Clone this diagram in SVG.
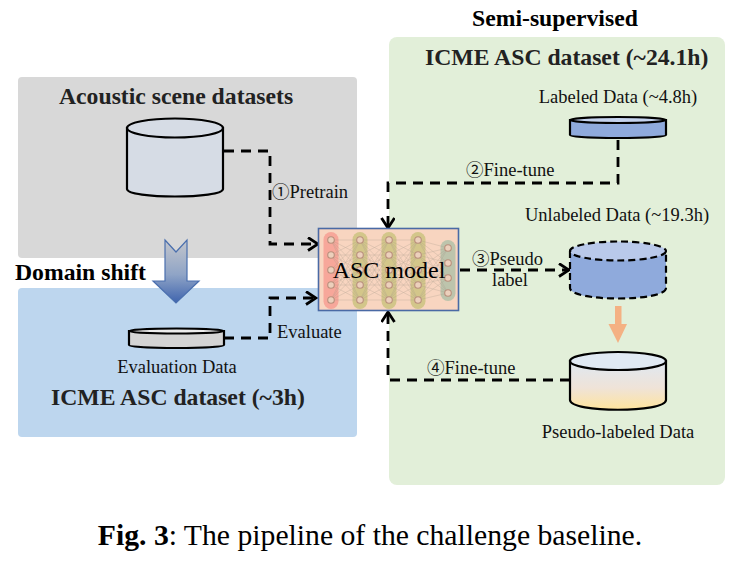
<svg xmlns="http://www.w3.org/2000/svg" width="738" height="563" viewBox="0 0 738 563">
<style>
text{font-family:"Liberation Serif",serif;fill:#111}
.t{font-size:18.500px}
.l{font-size:18.500px}
.k{font-family:"Noto Sans CJK SC","DejaVu Sans",sans-serif;font-size:17.500px}
.h{font-size:23.700px;font-weight:bold;fill:#222}
.c{stroke:#000;stroke-width:2.8;fill:none;stroke-dasharray:10 7}
.n{stroke:#a59a8a;stroke-width:.45;opacity:.6}
.o{fill:#ecd0bc;stroke:#b98f7c;stroke-width:1.1}
</style>
<defs>
<marker id="a" markerWidth="13" markerHeight="16" refX="11" refY="7" orient="auto" markerUnits="userSpaceOnUse"><path d="M1 0.5L11 7L1 13.5" fill="none" stroke="#000" stroke-width="2.8"/></marker>
<linearGradient id="g1" x1="0" y1="0" x2="0" y2="1"><stop offset="0" stop-color="#c3c6cc"/><stop offset=".55" stop-color="#8fa4c6"/><stop offset="1" stop-color="#3f64ae"/></linearGradient>
<linearGradient id="g2" x1="0" y1="0" x2="0" y2="1"><stop offset="0" stop-color="#dfe8f2"/><stop offset=".55" stop-color="#efe3d8"/><stop offset="1" stop-color="#ffe49d"/></linearGradient>
</defs>
<rect width="738" height="563" fill="#fff"/>
<g id="panel-acoustic"><rect x="18" y="77" width="339" height="181" rx="4" fill="#d8d8d8"/><text class="h" x="59" y="104">Acoustic scene datasets</text></g>
<g id="panel-icme-eval"><rect x="18" y="288" width="339" height="149" rx="4" fill="#bdd6ee"/><text class="h" x="51" y="405">ICME ASC dataset (~3h)</text></g>
<g id="panel-semi"><rect x="389" y="37" width="336" height="448" rx="8" fill="#e2efd9"/><text x="472" y="26" font-size="23.700" font-weight="bold" style="fill:#000">Semi-supervised</text><text class="h" x="425" y="65">ICME ASC dataset (~24.1h)</text></g>
<text x="15" y="280" font-size="23.700" font-weight="bold" style="fill:#000">Domain shift</text>
<g id="shift-arrow"><path d="M165 240L176 252L187 240V281H199L176 303L153 281H165Z" fill="url(#g1)" stroke="#4a6fae" stroke-width="1.2"/></g>
<g id="connectors">
<path class="c" d="M224 151H270V244H318" marker-end="url(#a)"/>
<path class="c" d="M224 338H270V298H316" marker-end="url(#a)"/>
<path class="c" d="M618 140V183H388V228" marker-end="url(#a)"/>
<path class="c" d="M460 270H569" marker-end="url(#a)"/>
<path class="c" d="M570 380H388V312" marker-end="url(#a)"/>
</g>
<g id="db-acoustic"><path d="M127 128V189C127 199 223 199 223 189V128Z" fill="#d6dce5" stroke="#000" stroke-width="2.2"/><ellipse cx="175" cy="128" rx="48" ry="9.5" fill="#d6dce5" stroke="#000" stroke-width="2.2"/></g>
<g id="db-evaluation"><path d="M129 331V345C129 349 224 349 224 345V331Z" fill="#d4d4d4" stroke="#000" stroke-width="2.2"/><ellipse cx="176.500" cy="331" rx="47.500" ry="2.500" fill="#ececec" stroke="#000" stroke-width="2"/><text class="t" x="177" y="373" text-anchor="middle">Evaluation Data</text></g>
<g id="db-labeled"><path d="M570 120V135C570 139 666 139 666 135V120Z" fill="#8faadc" stroke="#000" stroke-width="2.2"/><ellipse cx="618" cy="120" rx="48" ry="3" fill="#c5d3ee" stroke="#000" stroke-width="2"/><text class="t" x="618" y="103" text-anchor="middle">Labeled Data (~4.8h)</text></g>
<g id="db-unlabeled"><path d="M570 251V288C570 302 666 302 666 288V251Z" fill="#8faadc" stroke="#000" stroke-width="2.2" stroke-dasharray="7 4"/><ellipse cx="618" cy="251" rx="48" ry="9.500" fill="#b9c9ea" stroke="#000" stroke-width="2.2" stroke-dasharray="7 4"/><text class="t" x="617" y="221" text-anchor="middle">Unlabeled Data (~19.3h)</text></g>
<g id="pseudo-arrow"><path d="M615 306H621.500V324H627L618 343L608.500 324H615Z" fill="#f4b183"/></g>
<g id="db-pseudo"><path d="M570 361V400C570 413 666 413 666 400V361Z" fill="url(#g2)" stroke="#000" stroke-width="2.2"/><ellipse cx="618" cy="361" rx="48" ry="9" fill="#e0e9f3" stroke="#000" stroke-width="2.2"/><text class="t" x="618" y="438" text-anchor="middle">Pseudo-labeled Data</text></g>
<g id="asc-model">
<rect x="318.500" y="228.500" width="140" height="82" fill="#f8d5c0" stroke="#4a6aa5" stroke-width="1.6"/>
<rect x="323.500" y="232" width="15" height="77" rx="7.500" fill="#f7a79a"/>
<rect x="352.500" y="232" width="15" height="77" rx="7.500" fill="#d3c68a"/>
<rect x="381.500" y="232" width="15" height="77" rx="7.500" fill="#d3c68a"/>
<rect x="410.500" y="232" width="15" height="77" rx="7.500" fill="#d3c68a"/>
<rect x="440.500" y="240" width="15" height="61" rx="7.500" fill="#bdc4ac"/>
<path class="n" d="M331 240L360 240M331 240L360 255M331 240L360 270M331 240L360 285M331 240L360 300M331 255L360 240M331 255L360 255M331 255L360 270M331 255L360 285M331 255L360 300M331 270L360 240M331 270L360 255M331 270L360 270M331 270L360 285M331 270L360 300M331 285L360 240M331 285L360 255M331 285L360 270M331 285L360 285M331 285L360 300M331 300L360 240M331 300L360 255M331 300L360 270M331 300L360 285M331 300L360 300M360 240L389 240M360 240L389 255M360 240L389 270M360 240L389 285M360 240L389 300M360 255L389 240M360 255L389 255M360 255L389 270M360 255L389 285M360 255L389 300M360 270L389 240M360 270L389 255M360 270L389 270M360 270L389 285M360 270L389 300M360 285L389 240M360 285L389 255M360 285L389 270M360 285L389 285M360 285L389 300M360 300L389 240M360 300L389 255M360 300L389 270M360 300L389 285M360 300L389 300M389 240L418 240M389 240L418 255M389 240L418 270M389 240L418 285M389 240L418 300M389 255L418 240M389 255L418 255M389 255L418 270M389 255L418 285M389 255L418 300M389 270L418 240M389 270L418 255M389 270L418 270M389 270L418 285M389 270L418 300M389 285L418 240M389 285L418 255M389 285L418 270M389 285L418 285M389 285L418 300M389 300L418 240M389 300L418 255M389 300L418 270M389 300L418 285M389 300L418 300M418 240L448 248M418 240L448 263M418 240L448 278M418 240L448 293M418 255L448 248M418 255L448 263M418 255L448 278M418 255L448 293M418 270L448 248M418 270L448 263M418 270L448 278M418 270L448 293M418 285L448 248M418 285L448 263M418 285L448 278M418 285L448 293M418 300L448 248M418 300L448 263M418 300L448 278M418 300L448 293"/>
<g class="o"><circle cx="331" cy="240" r="3.300"/><circle cx="331" cy="255" r="3.300"/><circle cx="331" cy="270" r="3.300"/><circle cx="331" cy="285" r="3.300"/><circle cx="331" cy="300" r="3.300"/><circle cx="360" cy="240" r="3.300"/><circle cx="360" cy="255" r="3.300"/><circle cx="360" cy="270" r="3.300"/><circle cx="360" cy="285" r="3.300"/><circle cx="360" cy="300" r="3.300"/><circle cx="389" cy="240" r="3.300"/><circle cx="389" cy="255" r="3.300"/><circle cx="389" cy="270" r="3.300"/><circle cx="389" cy="285" r="3.300"/><circle cx="389" cy="300" r="3.300"/><circle cx="418" cy="240" r="3.300"/><circle cx="418" cy="255" r="3.300"/><circle cx="418" cy="270" r="3.300"/><circle cx="418" cy="285" r="3.300"/><circle cx="418" cy="300" r="3.300"/><circle cx="448" cy="248" r="3.300"/><circle cx="448" cy="263" r="3.300"/><circle cx="448" cy="278" r="3.300"/><circle cx="448" cy="293" r="3.300"/></g>
<text x="389" y="278" font-size="24" text-anchor="middle" style="fill:#000">ASC model</text>
</g>
<g id="labels">
<text class="l" x="272" y="198"><tspan class="k">①</tspan>Pretrain</text>
<text class="l" x="277" y="338">Evaluate</text>
<text class="l" x="466" y="176"><tspan class="k">②</tspan>Fine-tune</text>
<text class="l" x="472" y="265"><tspan class="k">③</tspan>Pseudo</text>
<text class="l" x="492" y="286">label</text>
<text class="l" x="427" y="374"><tspan class="k">④</tspan>Fine-tune</text>
</g>
<text x="370" y="545" font-size="29.700" text-anchor="middle" style="fill:#000"><tspan font-weight="bold">Fig. 3</tspan>: The pipeline of the challenge baseline.</text>
</svg>
